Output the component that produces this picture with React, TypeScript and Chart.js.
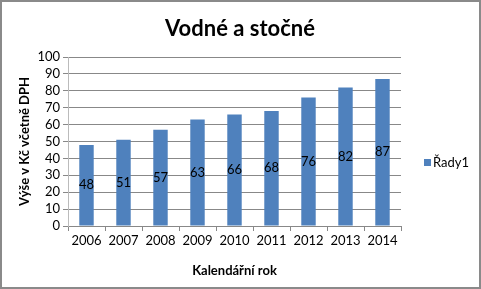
import React, { useEffect, useRef } from "react";
import { Chart, registerables } from "chart.js";

Chart.register(...registerables);

const categories = ["2006", "2007", "2008", "2009", "2010", "2011", "2012", "2013", "2014"];
const values = [48, 51, 57, 63, 66, 68, 76, 82, 87];
const seriesName = "Řady1";
const titleText = "Vodné a stočné";
const yTitle = "Výše v Kč včetně DPH";
const xTitle = "Kalendářní rok";

const FONT = "Lato, 'Open Sans', sans-serif";
const BAR = "#4F81BD";

const decorPlugin = {
  id: "decor",
  beforeDraw(chart: any) {
    const ctx = chart.ctx;
    ctx.save();
    ctx.fillStyle = "#ffffff";
    ctx.fillRect(0, 0, chart.width, chart.height);
    ctx.restore();
  },
  afterDraw(chart: any) {
    const ctx = chart.ctx;
    ctx.save();
    ctx.strokeStyle = "#8a8a8a";
    ctx.lineWidth = 2;
    ctx.strokeRect(1, 1, chart.width - 2, chart.height - 2);
    ctx.fillStyle = "#000";
    ctx.font = `bold 22px ${FONT}`;
    ctx.textAlign = "center";
    ctx.textBaseline = "middle";
    ctx.fillText(titleText, 240, 29);
    const meta = chart.getDatasetMeta(0);
    ctx.font = `13px ${FONT}`;
    meta.data.forEach((bar: any, i: number) => {
      const y = (bar.y + bar.base) / 2;
      ctx.fillText(String(values[i]), bar.x, y);
    });
    ctx.fillStyle = BAR;
    ctx.fillRect(424, 159, 7, 7);
    ctx.fillStyle = "#000";
    ctx.font = `13px ${FONT}`;
    ctx.textAlign = "left";
    ctx.fillText(seriesName, 433, 163);
    ctx.restore();
  },
};

export default function App() {
  const ref = useRef<HTMLCanvasElement>(null);
  useEffect(() => {
    if (!ref.current) return;
    const chart = new Chart(ref.current, {
      type: "bar",
      data: {
        labels: categories,
        datasets: [
          {
            label: seriesName,
            data: values,
            backgroundColor: BAR,
            borderWidth: 0,
            barPercentage: 0.39,
            categoryPercentage: 1,
          },
        ],
      },
      options: {
        responsive: false,
        animation: false,
        layout: { padding: { top: 57, right: 80, left: 0, bottom: 0 } },
        plugins: {
          legend: { display: false },
          title: { display: false },
          tooltip: { enabled: false },
        },
        scales: {
          x: {
            afterFit: (s: any) => {
              s.height = 63;
            },
            grid: {
              drawOnChartArea: false,
              drawTicks: true,
              tickLength: 5,
              offset: true,
              color: "#888",
            },
            border: { color: "#888" },
            ticks: {
              color: "#000",
              font: { family: FONT, size: 13 },
              padding: 2,
              maxRotation: 0,
              autoSkip: false,
            },
            title: {
              display: true,
              text: xTitle,
              color: "#000",
              font: { family: FONT, size: 13, weight: "bold" },
              padding: { top: 0, bottom: 10 },
            },
          },
          y: {
            min: 0,
            max: 100,
            afterFit: (s: any) => {
              s.width = 68;
            },
            ticks: {
              stepSize: 10,
              autoSkip: false,
              color: "#000",
              font: { family: FONT, size: 13 },
              padding: 3,
            },
            grid: { color: "#888", tickLength: 5 },
            border: { color: "#bbb" },
            title: {
              display: true,
              text: yTitle,
              color: "#000",
              font: { family: FONT, size: 13, weight: "bold" },
              padding: { top: 17, bottom: 0 },
            },
          },
        },
      },
      plugins: [decorPlugin],
    });
    return () => chart.destroy();
  }, []);
  return (
    <div style={{ position: "fixed", left: 0, top: 0, width: 481, height: 289 }}>
      <canvas ref={ref} width={481} height={289} />
    </div>
  );
}
